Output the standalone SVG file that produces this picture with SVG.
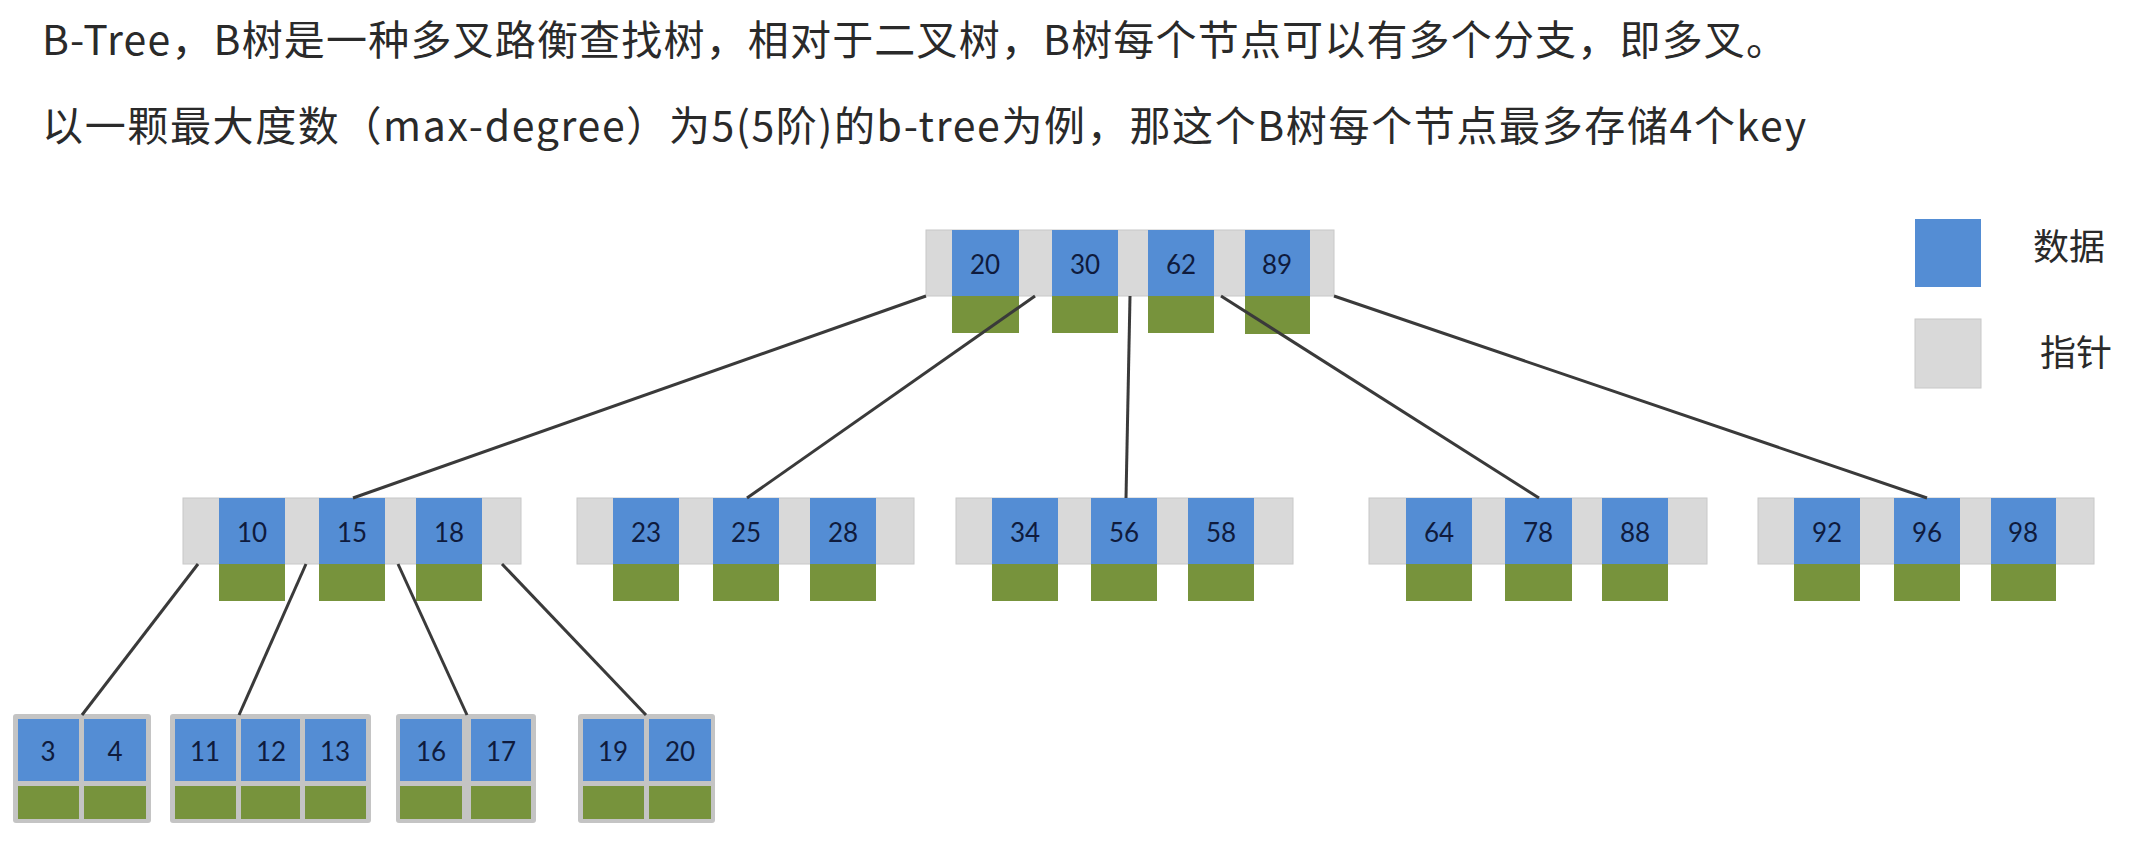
<svg xmlns="http://www.w3.org/2000/svg" width="2142" height="844" viewBox="0 0 2142 844">
<style>
.hdr{font-family:"Noto Sans CJK SC","Noto Sans",sans-serif;font-size:41px;fill:#2A2A2A}
.lg{font-family:"Noto Sans CJK SC","Noto Sans",sans-serif;font-size:36px;fill:#2A2A2A}
.ptr{fill:#D9D9D9;stroke:#C8C8C8;stroke-width:1}
.key{fill:#548DD4}
.chd{fill:#77933C}
.leaf{fill:#C4C4C4}
.num{font-family:Lato,"Open Sans",sans-serif;font-size:26px;fill:#0F1B3D;text-anchor:middle;dominant-baseline:central}
.edge{stroke:#3A3A3A;stroke-width:3;fill:none}
</style>
<rect width="2142" height="844" fill="#FFFFFF"/>
<g id="header">
<text class="hdr" x="42" y="55" textLength="1745">B-Tree，B树是一种多叉路衡查找树，相对于二叉树，B树每个节点可以有多个分支，即多叉。</text>
<text class="hdr" x="42" y="141" textLength="1764">以一颗最大度数（max-degree）为5(5阶)的b-tree为例，那这个B树每个节点最多存储4个key</text>
</g>
<g id="legend">
<rect x="1915" y="219" width="66" height="68" class="key"/>
<text class="lg" x="2033" y="260">数据</text>
<rect x="1915" y="319" width="66" height="69" class="ptr"/>
<text class="lg" x="2040" y="366">指针</text>
</g>
<g id="root">
<rect x="926" y="230" width="408" height="66" class="ptr"/>
<rect x="952" y="230" width="67" height="66" class="key"/><rect x="952" y="296" width="67" height="37" class="chd"/><text class="num" x="985" y="264">20</text>
<rect x="1052" y="230" width="66" height="66" class="key"/><rect x="1052" y="296" width="66" height="37" class="chd"/><text class="num" x="1085" y="264">30</text>
<rect x="1148" y="230" width="66" height="66" class="key"/><rect x="1148" y="296" width="66" height="37" class="chd"/><text class="num" x="1181" y="264">62</text>
<rect x="1245" y="230" width="65" height="66" class="key"/><rect x="1245" y="296" width="65" height="38" class="chd"/><text class="num" x="1277" y="264">89</text>
</g>
<g id="n10-15-18">
<rect x="183" y="498" width="338" height="66" class="ptr"/>
<rect x="219" y="498" width="66" height="66" class="key"/><rect x="219" y="564" width="66" height="37" class="chd"/><text class="num" x="252" y="532">10</text>
<rect x="319" y="498" width="66" height="66" class="key"/><rect x="319" y="564" width="66" height="37" class="chd"/><text class="num" x="352" y="532">15</text>
<rect x="416" y="498" width="66" height="66" class="key"/><rect x="416" y="564" width="66" height="37" class="chd"/><text class="num" x="449" y="532">18</text>
</g>
<g id="n23-25-28">
<rect x="577" y="498" width="337" height="66" class="ptr"/>
<rect x="613" y="498" width="66" height="66" class="key"/><rect x="613" y="564" width="66" height="37" class="chd"/><text class="num" x="646" y="532">23</text>
<rect x="713" y="498" width="66" height="66" class="key"/><rect x="713" y="564" width="66" height="37" class="chd"/><text class="num" x="746" y="532">25</text>
<rect x="810" y="498" width="66" height="66" class="key"/><rect x="810" y="564" width="66" height="37" class="chd"/><text class="num" x="843" y="532">28</text>
</g>
<g id="n34-56-58">
<rect x="956" y="498" width="337" height="66" class="ptr"/>
<rect x="992" y="498" width="66" height="66" class="key"/><rect x="992" y="564" width="66" height="37" class="chd"/><text class="num" x="1025" y="532">34</text>
<rect x="1091" y="498" width="66" height="66" class="key"/><rect x="1091" y="564" width="66" height="37" class="chd"/><text class="num" x="1124" y="532">56</text>
<rect x="1188" y="498" width="66" height="66" class="key"/><rect x="1188" y="564" width="66" height="37" class="chd"/><text class="num" x="1221" y="532">58</text>
</g>
<g id="n64-78-88">
<rect x="1369" y="498" width="338" height="66" class="ptr"/>
<rect x="1406" y="498" width="66" height="66" class="key"/><rect x="1406" y="564" width="66" height="37" class="chd"/><text class="num" x="1439" y="532">64</text>
<rect x="1505" y="498" width="67" height="66" class="key"/><rect x="1505" y="564" width="67" height="37" class="chd"/><text class="num" x="1538" y="532">78</text>
<rect x="1602" y="498" width="66" height="66" class="key"/><rect x="1602" y="564" width="66" height="37" class="chd"/><text class="num" x="1635" y="532">88</text>
</g>
<g id="n92-96-98">
<rect x="1758" y="498" width="336" height="66" class="ptr"/>
<rect x="1794" y="498" width="66" height="66" class="key"/><rect x="1794" y="564" width="66" height="37" class="chd"/><text class="num" x="1827" y="532">92</text>
<rect x="1894" y="498" width="66" height="66" class="key"/><rect x="1894" y="564" width="66" height="37" class="chd"/><text class="num" x="1927" y="532">96</text>
<rect x="1991" y="498" width="65" height="66" class="key"/><rect x="1991" y="564" width="65" height="37" class="chd"/><text class="num" x="2023" y="532">98</text>
</g>
<g id="leaf-3-4">
<rect x="13" y="714" width="138" height="109" rx="3" class="leaf"/>
<rect x="18" y="719" width="61" height="62" class="key"/><rect x="18" y="786" width="61" height="33" class="chd"/><text class="num" x="48" y="751">3</text>
<rect x="84" y="719" width="62" height="62" class="key"/><rect x="84" y="786" width="62" height="33" class="chd"/><text class="num" x="115" y="751">4</text>
</g>
<g id="leaf-11-12-13">
<rect x="170" y="714" width="201" height="109" rx="3" class="leaf"/>
<rect x="175" y="719" width="61" height="62" class="key"/><rect x="175" y="786" width="61" height="33" class="chd"/><text class="num" x="205" y="751">11</text>
<rect x="241" y="719" width="59" height="62" class="key"/><rect x="241" y="786" width="59" height="33" class="chd"/><text class="num" x="271" y="751">12</text>
<rect x="305" y="719" width="61" height="62" class="key"/><rect x="305" y="786" width="61" height="33" class="chd"/><text class="num" x="335" y="751">13</text>
</g>
<g id="leaf-16-17">
<rect x="396" y="714" width="140" height="109" rx="3" class="leaf"/>
<rect x="400" y="719" width="62" height="62" class="key"/><rect x="400" y="786" width="62" height="33" class="chd"/><text class="num" x="431" y="751">16</text>
<rect x="471" y="719" width="60" height="62" class="key"/><rect x="471" y="786" width="60" height="33" class="chd"/><text class="num" x="501" y="751">17</text>
</g>
<g id="leaf-19-20">
<rect x="578" y="714" width="137" height="109" rx="3" class="leaf"/>
<rect x="583" y="719" width="61" height="62" class="key"/><rect x="583" y="786" width="61" height="33" class="chd"/><text class="num" x="613" y="751">19</text>
<rect x="649" y="719" width="62" height="62" class="key"/><rect x="649" y="786" width="62" height="33" class="chd"/><text class="num" x="680" y="751">20</text>
</g>
<g id="connectors" class="edge">
<line x1="926" y1="296" x2="353" y2="498"/>
<line x1="1035" y1="296" x2="747" y2="498"/>
<line x1="1130" y1="296" x2="1126" y2="498"/>
<line x1="1221" y1="296" x2="1539" y2="498"/>
<line x1="1334" y1="296" x2="1927" y2="498"/>
<line x1="198" y1="564" x2="82" y2="715"/>
<line x1="306" y1="564" x2="239" y2="715"/>
<line x1="398" y1="564" x2="467" y2="715"/>
<line x1="502" y1="564" x2="646" y2="715"/>
</g>
</svg>
